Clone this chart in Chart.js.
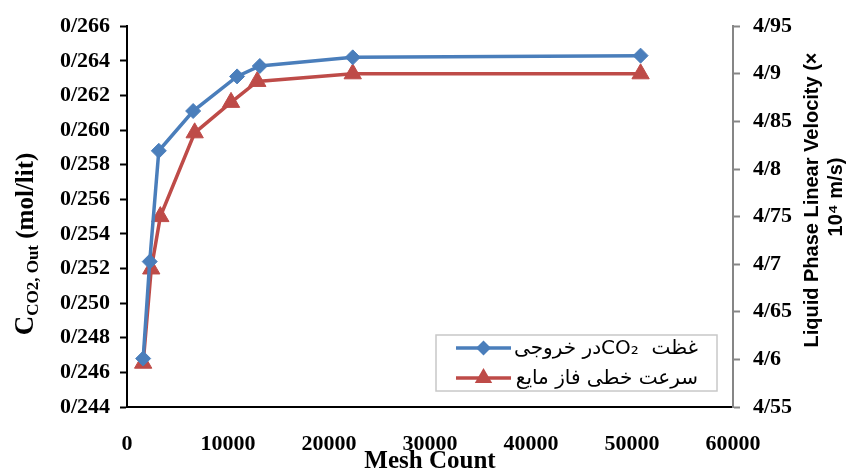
<!DOCTYPE html>
<html>
<head>
<meta charset="utf-8">
<title>Mesh Count</title>
<script src="https://cdn.jsdelivr.net/npm/chart.js@4.4.1/dist/chart.umd.min.js"></script>
<style>
  html, body { margin: 0; padding: 0; background: #fff; }
  #wrap { width: 854px; height: 470px; }
</style>
</head>
<body>
<div id="wrap"><canvas id="meshChart" width="854" height="470"></canvas></div>
<script>
// mesh study: outlet CO2 concentration and liquid velocity vs. mesh count
const meshConc = [1600, 2250, 3150, 6550, 10900, 13150, 22350, 50850];
const concOut = [0.2468, 0.2524, 0.2588, 0.2611, 0.2631, 0.2637, 0.2642, 0.2643];
const meshVel = [1600, 2400, 3300, 6700, 10300, 12900, 22350, 50850];
const velocity = [4.596, 4.695, 4.750, 4.838, 4.870, 4.892, 4.900, 4.900];

const concLabel = "غظت  CO₂در خروجی";
const velLabel = "سرعت خطی فاز مایع";

const BLUE = "#4a7ebb";
const RED = "#be4b48";
const tickFont = { family: "Liberation Serif", weight: "bold", size: 22 };

// persian style decimal separator
const slashNum = (v, digits) => {
  let s = v.toFixed(digits);
  if (digits === 2) s = s.replace(/0$/, "");
  return s.replace(".", "/");
};

function drawDiamond(ctx, x, y, r) {
  ctx.beginPath();
  ctx.moveTo(x - r, y);
  ctx.lineTo(x, y - r);
  ctx.lineTo(x + r, y);
  ctx.lineTo(x, y + r);
  ctx.closePath();
  ctx.fill();
}

function drawTriangle(ctx, x, y, r) {
  const h = r * 1.5;
  ctx.beginPath();
  ctx.moveTo(x, y - h * 2 / 3);
  ctx.lineTo(x + r * 0.87, y + h / 3);
  ctx.lineTo(x - r * 0.87, y + h / 3);
  ctx.closePath();
  ctx.fill();
}

// axis titles (subscripts, two-line rotated) and the boxed legend
const extras = {
  id: "extras",
  afterDraw(chart) {
    const ctx = chart.ctx;
    const area = chart.chartArea;
    ctx.save();
    ctx.fillStyle = "#000";
    ctx.textBaseline = "alphabetic";

    // x axis title
    ctx.font = 'bold 25px "Liberation Serif"';
    ctx.textAlign = "center";
    ctx.fillText("Mesh Count", (area.left + area.right) / 2, 468);

    // left axis title with subscript
    ctx.save();
    ctx.translate(33, 244);
    ctx.rotate(-Math.PI / 2);
    const parts = [
      { t: "C", size: 27, dy: 0 },
      { t: "CO2, Out", size: 17, dy: 5 },
      { t: " (mol/lit)", size: 25, dy: 0 }
    ];
    let total = 0;
    parts.forEach(p => {
      ctx.font = `bold ${p.size}px "Liberation Serif"`;
      p.w = ctx.measureText(p.t).width;
      total += p.w;
    });
    let px = -total / 2;
    ctx.textAlign = "left";
    parts.forEach(p => {
      ctx.font = `bold ${p.size}px "Liberation Serif"`;
      ctx.fillText(p.t, px, p.dy);
      px += p.w;
    });
    ctx.restore();

    // right axis title, two lines reading upward
    ctx.save();
    ctx.font = 'bold 20px "Liberation Sans"';
    ctx.textAlign = "center";
    ctx.textBaseline = "middle";
    ctx.translate(812, 200);
    ctx.rotate(-Math.PI / 2);
    ctx.fillText("Liquid Phase Linear Velocity (×", 0, 0);
    ctx.fillText("10⁴ m/s)", 3, 24);
    ctx.restore();

    // legend box
    ctx.strokeStyle = "#c8c8c8";
    ctx.lineWidth = 1.5;
    ctx.fillStyle = "#fff";
    ctx.fillRect(436, 335, 281, 56);
    ctx.strokeRect(436, 335, 281, 56);

    const rows = [
      { y: 348, color: BLUE, text: concLabel, mark: drawDiamond, r: 7.5 },
      { y: 378, color: RED, text: velLabel, mark: drawTriangle, r: 10 }
    ];
    rows.forEach(row => {
      ctx.strokeStyle = row.color;
      ctx.fillStyle = row.color;
      ctx.lineWidth = 3.5;
      ctx.beginPath();
      ctx.moveTo(456, row.y);
      ctx.lineTo(511, row.y);
      ctx.stroke();
      row.mark(ctx, 483.5, row.y, row.r);
      ctx.fillStyle = "#000";
      ctx.font = '20px "DejaVu Sans"';
      ctx.direction = "rtl";
      ctx.textAlign = "right";
      ctx.textBaseline = "middle";
      ctx.fillText(row.text, 698, row.y + 1);
    });
    ctx.restore();
  }
};

const ctx = document.getElementById("meshChart").getContext("2d");
new Chart(ctx, {
  type: "line",
  data: {
    datasets: [
      {
        label: concLabel,
        data: meshConc.map((m, i) => ({ x: m, y: concOut[i] })),
        yAxisID: "y",
        borderColor: BLUE,
        backgroundColor: BLUE,
        borderWidth: 3.5,
        pointStyle: "rectRot",
        pointRadius: 7.5,
        pointBorderWidth: 1,
        tension: 0
      },
      {
        label: velLabel,
        data: meshVel.map((m, i) => ({ x: m, y: velocity[i] })),
        yAxisID: "y2",
        borderColor: RED,
        backgroundColor: RED,
        borderWidth: 3.5,
        pointStyle: "triangle",
        pointRadius: 10,
        pointBorderWidth: 1,
        tension: 0
      }
    ]
  },
  options: {
    responsive: false,
    animation: false,
    layout: { padding: { top: 25, left: 0, right: 0, bottom: 0 } },
    plugins: {
      legend: { display: false },
      tooltip: { enabled: false }
    },
    scales: {
      x: {
        type: "linear",
        min: 0,
        max: 60000,
        afterFit: s => { s.height = 63; },
        ticks: {
          stepSize: 10000,
          color: "#000",
          font: tickFont,
          padding: 16,
          maxRotation: 0,
          callback: v => String(v)
        },
        grid: { display: false },
        border: { display: true, color: "#000", width: 2 }
      },
      y: {
        position: "left",
        min: 0.244,
        max: 0.266,
        afterFit: s => { s.width = 127; },
        ticks: {
          stepSize: 0.002,
          color: "#000",
          font: tickFont,
          padding: 10,
          callback: v => slashNum(v, 3)
        },
        grid: {
          drawOnChartArea: false,
          drawTicks: true,
          tickLength: 7,
          tickColor: "#000",
          tickWidth: 2
        },
        border: { display: true, color: "#000", width: 2 }
      },
      y2: {
        position: "right",
        min: 4.55,
        max: 4.95,
        afterFit: s => { s.width = 121; },
        ticks: {
          stepSize: 0.05,
          color: "#000",
          font: tickFont,
          padding: 13,
          callback: v => slashNum(v, 2)
        },
        grid: {
          drawOnChartArea: false,
          drawTicks: true,
          tickLength: 7,
          tickColor: "#868686",
          tickWidth: 2
        },
        border: { display: true, color: "#868686", width: 2 }
      }
    }
  },
  plugins: [extras]
});
</script>
</body>
</html>
